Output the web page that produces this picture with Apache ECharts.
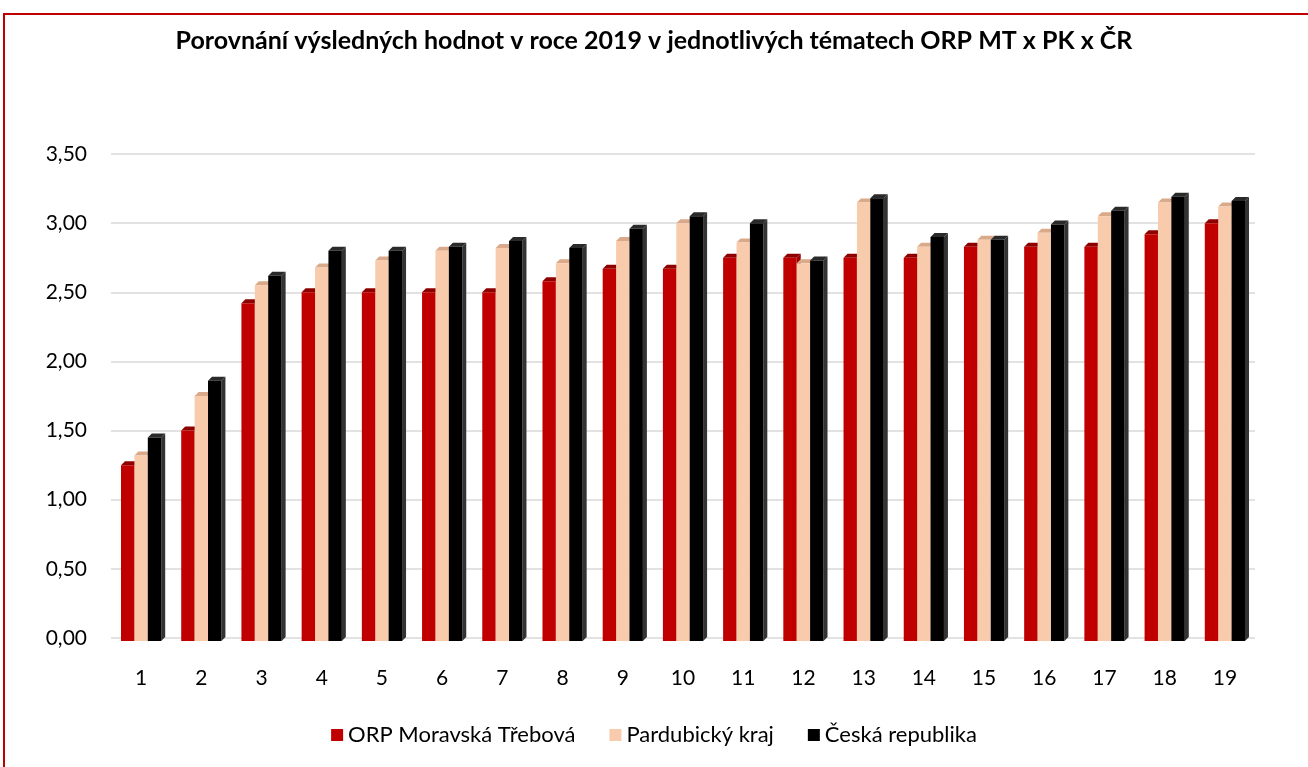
<!DOCTYPE html>
<html>
<head>
<meta charset="utf-8">
<script src="https://cdn.jsdelivr.net/npm/echarts@6/dist/echarts.min.js"></script>
<style>
  html, body { margin: 0; padding: 0; background: #fff; overflow: hidden; }
  #frame { position: absolute; left: 3px; top: 13px; width: 1400px; height: 800px; border: 2px solid #c00000; }
  #main { position: absolute; left: 0; top: 0; width: 1308px; height: 767px; }
</style>
</head>
<body>
<div id="frame"></div>
<div id="main"></div>
<script>
var categories = ['1','2','3','4','5','6','7','8','9','10','11','12','13','14','15','16','17','18','19'];
var orpMT = [1.25, 1.50, 2.42, 2.50, 2.50, 2.50, 2.50, 2.58, 2.67, 2.67, 2.75, 2.75, 2.75, 2.75, 2.83, 2.83, 2.83, 2.92, 3.00];
var pardubickyKraj = [1.32, 1.75, 2.55, 2.68, 2.73, 2.80, 2.82, 2.71, 2.87, 3.00, 2.86, 2.71, 3.15, 2.83, 2.88, 2.93, 3.05, 3.15, 3.12];
var ceskaRepublika = [1.45, 1.86, 2.62, 2.80, 2.80, 2.83, 2.87, 2.82, 2.96, 3.05, 3.00, 2.73, 3.18, 2.90, 2.88, 2.99, 3.09, 3.19, 3.16];

var seriesNames = ['ORP Moravská Třebová', 'Pardubický kraj', 'Česká republika'];
var faceColors = ['#c00000', '#f8cbad', '#000000'];
var capColors = ['#8e0000', '#d9a98a', '#2a2a2a'];
var sideColors = ['#9a0000', '#e0b393', '#333333'];

var chart = echarts.init(document.getElementById('main'));

// sloupec s jednoduchym 3D efektem (celo, vrsek, bok)
function makeRender(idx) {
  return function (params, api) {
    var cat = api.value(0);
    var val = api.value(1);
    var base = api.coord([cat, 0]);
    var top = api.coord([cat, val]);
    var w = 13.4;
    var d = 4;
    var x = base[0] - 1.5 * w + idx * w;
    var yT = top[1];
    var yB = base[1] + 3;
    return {
      type: 'group',
      children: [
        {
          type: 'polygon',
          shape: { points: [[x + w, yT], [x + w + d, yT - d], [x + w + d, yB - d], [x + w, yB]] },
          style: { fill: sideColors[idx] }
        },
        {
          type: 'polygon',
          shape: { points: [[x, yT], [x + d, yT - d], [x + w + d, yT - d], [x + w, yT]] },
          style: { fill: capColors[idx] }
        },
        {
          type: 'rect',
          shape: { x: x, y: yT, width: w, height: yB - yT },
          style: { fill: faceColors[idx] }
        }
      ]
    };
  };
}

function toData(arr) {
  return arr.map(function (v, i) { return [i, v]; });
}

var allData = [orpMT, pardubickyKraj, ceskaRepublika];

chart.setOption({
  animation: false,
  title: {
    text: 'Porovnání výsledných hodnot v roce 2019 v jednotlivých tématech ORP MT x PK x ČR',
    left: 'center',
    top: 23,
    textStyle: { fontFamily: 'Lato', fontWeight: 'bold', fontSize: 25, color: '#000' }
  },
  legend: {
    bottom: 16,
    left: 'center',
    itemWidth: 12,
    itemHeight: 12,
    itemGap: 34,
    icon: 'rect',
    textStyle: { fontFamily: 'Lato', fontSize: 22, color: '#000' },
    data: seriesNames
  },
  grid: { left: 111, right: 53, top: 154, bottom: 129 },
  xAxis: {
    type: 'category',
    data: categories,
    axisLine: { show: false },
    axisTick: { show: false },
    axisLabel: { margin: 30, fontFamily: 'Lato', fontSize: 21, color: '#000' }
  },
  yAxis: {
    type: 'value',
    min: 0,
    max: 3.5,
    interval: 0.5,
    axisLine: { show: false },
    axisTick: { show: false },
    splitLine: { lineStyle: { color: '#d9d9d9', width: 1.5 } },
    axisLabel: {
      margin: 24,
      fontFamily: 'Lato',
      fontSize: 21,
      color: '#000',
      formatter: function (v) { return v.toFixed(2).replace('.', ','); }
    }
  },
  series: seriesNames.map(function (name, i) {
    return {
      name: name,
      type: 'custom',
      renderItem: makeRender(i),
      itemStyle: { color: faceColors[i] },
      encode: { x: 0, y: 1 },
      data: toData(allData[i])
    };
  })
});
</script>
</body>
</html>
